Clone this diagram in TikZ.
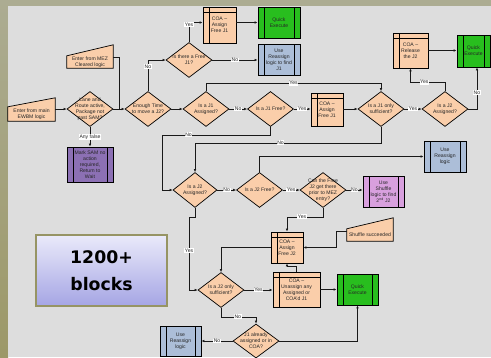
\documentclass[tikz,border=0pt]{standalone}
\usepackage{fontspec}
\setmainfont{Liberation Sans}
\newfontfamily\blockfont{DejaVu Sans}
\usetikzlibrary{shapes.geometric,arrows.meta}

\definecolor{peach}{RGB}{250,206,170}
\definecolor{qgreen}{RGB}{40,190,30}
\definecolor{rblue}{RGB}{172,190,216}
\definecolor{shufpink}{RGB}{216,160,222}
\definecolor{sampurple}{RGB}{140,112,180}
\definecolor{canvas}{RGB}{221,221,221}
\definecolor{frametop}{RGB}{172,172,146}
\definecolor{framebot}{RGB}{156,152,104}
\definecolor{blkedge}{RGB}{150,148,100}
\definecolor{blktop}{RGB}{234,234,250}
\definecolor{blkbot}{RGB}{165,165,228}

\pgfdeclarelayer{back}
\pgfsetlayers{back,main}

\tikzset{
  txt/.style={font=\fontsize{5.1}{6}\selectfont, align=center, text=black!85},
  decision/.style={txt, shape=diamond, draw=black, fill=peach, line width=0.7pt,
    inner xsep=-5pt, inner ysep=-4pt, minimum width=46pt, minimum height=35pt},
  process/.style={txt, rectangle, draw=black, line width=0.8pt, inner sep=0pt,
    path picture={\draw[line width=0.8pt]
      ([xshift=6pt]path picture bounding box.north west) -- ([xshift=6pt]path picture bounding box.south west)
      ([xshift=-6pt]path picture bounding box.north east) -- ([xshift=-6pt]path picture bounding box.south east);}},
  storage/.style={txt, rectangle, draw=black, fill=peach, line width=0.8pt, inner sep=0pt,
    path picture={\draw[line width=0.7pt]
      ([xshift=6pt]path picture bounding box.north west) -- ([xshift=6pt]path picture bounding box.south west)
      ([yshift=-5pt]path picture bounding box.north west) -- ([yshift=-5pt]path picture bounding box.north east);}},
  manual/.style={txt, inner sep=0pt, minimum height=12pt},
  manualshape/.style={draw=black, fill=peach, line width=0.7pt},
  link/.style={draw=black!90, line width=0.7pt},
  flow/.style={link, -{Latex[length=3pt,width=2.6pt]}},
  lbl/.style={txt, fill=white, inner sep=0.6pt}
}

\begin{document}
\begin{tikzpicture}[x=1pt, y=-1pt]
\useasboundingbox (0,0) rectangle (491,357);

% slide background with its frame strips
\begin{pgfonlayer}{back}
  \fill[frametop] (0,0) rectangle (491,6);
  \shade[top color=frametop, bottom color=framebot] (0,0) rectangle (8,357);
  \fill[canvas] (8,6) rectangle (491,357);
\end{pgfonlayer}

% entry points
\node[manual, minimum width=46pt] (mez) at (90,62) {Enter from MEZ\\Cleared logic};
\node[manual, minimum width=47pt, minimum height=14pt] (ewbm) at (31.5,114) {Enter from main\\EWBM logic};

% first row of checks
\node[decision] (lane) at (90,109) {Lane and\\Route active,\\Package not\\past SAM?};
\node[decision] (enough) at (148,109) {Enough Time\\to move a J2?};
\node[decision] (freej1) at (189,60) {Is there a Free\\J1?};
\node[storage, minimum width=33pt, minimum height=36pt] (coaA) at (219.5,25) {COA –\\Assign\\Free J1};
\node[process, fill=qgreen, minimum width=42pt, minimum height=31pt] (qeA) at (279,22.5) {Quick\\Execute};
\node[process, fill=rblue, minimum width=42pt, minimum height=31pt] (reaA) at (279,59.5) {Use\\Reassign\\logic to find\\J1};

\node[decision] (j1asg) at (206,109) {Is a J1\\Assigned?};
\node[decision] (j1free) at (270.5,109) {Is a J1 Free?};
\node[storage, minimum width=32pt, minimum height=33pt] (coaB) at (327,109.5) {COA –\\Assign\\Free J1};
\node[decision] (j1only) at (381,109) {Is a J1 only\\sufficient?};
\node[decision] (j2asgA) at (445,109) {Is a J2\\Assigned?};
\node[storage, minimum width=35pt, minimum height=35pt] (coaRel) at (410.5,50.5) {COA –\\Release\\the J2};
\node[process, fill=qgreen, minimum width=33pt, minimum height=32pt] (qeB) at (473.5,51) {Quick\\Execute};

\node[process, fill=sampurple, minimum width=46pt, minimum height=35pt] (mark) at (90,164.5) {Mark SAM no\\action\\required,\\Return to\\Wait};

% J2 branch
\node[decision, minimum width=44pt] (j2asgB) at (195,190) {Is a J2\\Assigned?};
\node[decision] (j2free) at (259.5,190) {Is a J2 Free?};
\node[decision] (canfree) at (323,190) {Can the Free\\J2 get there\\prior to MEZ\\entry?};
\node[process, fill=rblue, minimum width=42pt, minimum height=31pt] (reaB) at (445,156.5) {Use\\Reassign\\logic};
\node[process, fill=shufpink, minimum width=41pt, minimum height=31pt] (shuf) at (383.5,191.5) {Use\\Shuffle\\logic to find\\2\textsuperscript{nd} J2};
\node[manual, minimum width=46pt] (succ) at (370,235) {Shuffle succeeded};
\node[storage, minimum width=32pt, minimum height=31pt] (coaC) at (287,247.5) {COA –\\Assign\\Free J2};
\node[decision] (j2only) at (221,290) {Is a J2 only\\sufficient?};
\node[storage, minimum width=47pt, minimum height=35pt] (unas) at (296.5,289.5) {COA –\\Unassign any\\Assigned or\\COA'd J1};
\node[process, fill=qgreen, minimum width=41pt, minimum height=31pt] (qeC) at (357.5,289.5) {Quick\\Execute};
\node[decision, minimum height=34pt] (j1al) at (256,341) {J1 already\\assigned or in\\COA?};
\node[process, fill=rblue, minimum width=41pt, minimum height=30pt] (reaC) at (180.5,341) {Use\\Reassign\\logic};

% headline box
\node[draw=blkedge, line width=1.3pt, top color=blktop, bottom color=blkbot,
      minimum width=131pt, minimum height=71pt, inner sep=0pt, align=center,
      font={\blockfont\fontsize{17.3}{27.5}\selectfont\bfseries}] (blocks) at (101.5,270.5) {1200+\\blocks};

% manual input outlines behind their texts
\begin{pgfonlayer}{back}
  \draw[manualshape] (mez.south west) -- (mez.south east) -- ([yshift=11pt]mez.north east) -- (mez.north west) -- cycle;
  \draw[manualshape] (ewbm.south west) -- (ewbm.south east) -- ([yshift=9pt]ewbm.north east) -- (ewbm.north west) -- cycle;
  \draw[manualshape] (succ.south west) -- (succ.south east) -- ([yshift=11pt]succ.north east) -- (succ.north west) -- cycle;
\end{pgfonlayer}

% connectors
\coordinate (merge) at (119,109);
\draw[flow] (ewbm.east |- lane.west) -- (lane.west);
\draw[flow] (lane.east) -- (enough.west);
\draw[link] ([yshift=5pt]mez.east) -| (merge);
\draw[flow] (lane.south) -- node[lbl]{Any false} (mark.north);
\draw[flow] (enough.north) |- node[lbl,pos=0.39]{No} (freej1.west);
\draw[flow] (freej1.north) |- node[lbl,pos=0.45]{Yes} (coaA.west |- qeA.west);
\draw[flow] (coaA.east |- qeA.west) -- (qeA.west);
\draw[flow] (freej1.east) -- node[lbl]{No} (freej1.east -| reaA.west);
\draw[flow] (enough.east) -- (j1asg.west);
\draw[flow] (j1asg.east) -- node[lbl]{No} (j1free.west);
\draw[flow] (j1free.east) -- node[lbl]{Yes} (j1free.east -| coaB.west);
\draw[flow] (coaB.east |- j1only.west) -- (j1only.west);
\draw[flow] (j1asg.north) -- ++(0,-8) -| node[lbl,pos=0.25]{Yes} (j1only.north);
\draw[flow] (j1only.east) -- node[lbl]{Yes} (j2asgA.west);
\draw[flow] (j2asgA.north) -- ++(0,-9) -| node[lbl,pos=0.3]{Yes} (coaRel.south);
\draw[flow] (j2asgA.east) -| node[lbl,pos=0.7]{No} ([xshift=3.5pt]qeB.south);
\draw[flow] (coaRel.east) -- (coaRel.east -| qeB.west);
\draw[flow] (j1only.south) -- ++(0,16) -| node[lbl,pos=0.27]{No} (j2asgB.north);
\draw[flow] (j1free.south) -- ++(0,8) -| node[lbl,pos=0.38]{No} ([xshift=-10pt]j2asgB.west) -- (j2asgB.west);
\draw[flow] (j2asgB.east) -- node[lbl]{No} (j2free.west);
\draw[flow] (j2free.north) |- (reaB.west);
\draw[flow] (j2free.east) -- node[lbl]{Yes} (canfree.west);
\draw[flow] (canfree.east) -- node[lbl]{No} (canfree.east -| shuf.west);
\draw[flow] (canfree.south) -- ++(0,9) -| node[lbl,pos=0.29]{Yes} (coaC.north);
\draw[flow] ([yshift=4pt]succ.west) -- ++(-10,0) |- (coaC.east);
\draw[flow] (coaC.west) -| (j2only.north);
\draw[flow] (j2asgB.south) -- ++(0,9) -- ++(-6,0) |- node[lbl,pos=0.23]{Yes} (j2only.west);
\draw[flow] (j2only.east) -- node[lbl]{Yes} (j2only.east -| unas.west);
\draw[flow] (unas.north) -- ++(0,-5) -| (coaC.south);
\draw[flow] (unas.east) -- (qeC.west);
\draw[flow] (j2only.south) -- ++(0,9) -| node[lbl,pos=0.24]{No} (j1al.north);
\draw[flow] (j1al.west) -- node[lbl]{No} (j1al.west -| reaC.east);
\draw[flow] (j1al.east) -| (qeC.south);
\end{tikzpicture}
\end{document}
